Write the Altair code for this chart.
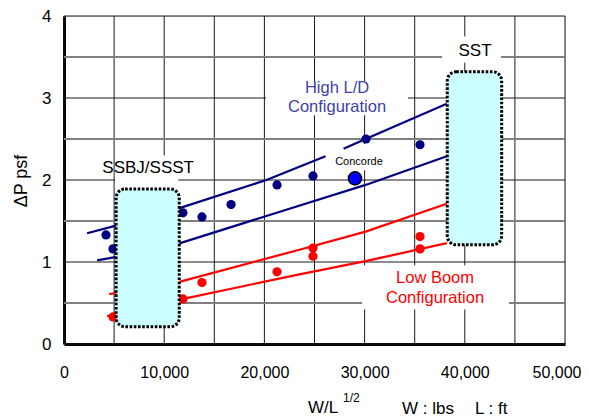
import altair as alt
import pandas as pd

FONT = "Liberation Sans"

# ---- data ----
blue_x = [4190, 4890, 11870, 13770, 16670, 21260, 24850, 30140, 35530]
blue_y = [1.33, 1.16, 1.60, 1.55, 1.70, 1.94, 2.05, 2.50, 2.43]

red_x = [4890, 11870, 13770, 21260, 24850, 24850, 35530, 35530]
red_y = [0.33, 0.55, 0.75, 0.88, 1.17, 1.07, 1.31, 1.16]

concorde_x = [29040]
concorde_y = [2.02]

# fitted bands (line segments as drawn)
hi_up_a_x = [2300, 5100, 11600, 20200, 26100]
hi_up_a_y = [1.35, 1.44, 1.66, 2.00, 2.29]
hi_up_b_x = [27900, 30100, 38200]
hi_up_b_y = [2.38, 2.50, 2.93]
hi_lo_x = [3300, 5100, 11600, 22500, 30100, 38200]
hi_lo_y = [1.02, 1.06, 1.23, 1.65, 1.94, 2.29]
lb_up_x = [4500, 5200, 11600, 23500, 30100, 38200]
lb_up_y = [0.61, 0.62, 0.76, 1.15, 1.37, 1.71]
lb_lo_x = [4300, 5200, 11900, 23500, 30100, 38200]
lb_lo_y = [0.34, 0.36, 0.55, 0.85, 1.01, 1.23]

# target regions (rounded dotted boxes)
box_names = ["SSBJ/SSST", "SST"]
box_x1 = [5200, 38250]
box_x2 = [11500, 43680]
box_y1 = [0.21, 1.21]
box_y2 = [1.89, 3.32]

# white label backgrounds
lab_bg_x1 = [5100, 37730, 20160, 29740, 26150]
lab_bg_x2 = [11400, 43620, 34330, 44410, 32530]
lab_bg_y1 = [1.89, 3.43, 2.79, 0.42, 2.12]
lab_bg_y2 = [2.30, 3.75, 3.20, 0.96, 2.44]

# annotation texts
ann_text = ["SSBJ/SSST", "SST", "High L/D", "Configuration", "Low Boom", "Configuration"]
ann_x = [8400, 41020, 27250, 27250, 37030, 37030]
ann_y = [2.15, 3.57, 3.125, 2.89, 0.80, 0.555]
ann_color = ["#000000", "#000000", "#3F3FAA", "#3F3FAA", "#FF0000", "#FF0000"]
ann_size = [17, 17, 16.5, 16.5, 16.5, 16.5]

conc_label = ["Concorde"]
conc_label_x = [29440]
conc_label_y = [2.22]

x_ticks = list(range(0, 50001, 5000))
y_ticks = [i * 0.5 for i in range(9)]

# ---- tables ----
pts_blue = pd.DataFrame({"x": blue_x, "y": blue_y})
pts_red = pd.DataFrame({"x": red_x, "y": red_y})
pts_conc = pd.DataFrame({"x": concorde_x, "y": concorde_y})

rows = []
for name, lx, ly, col in [
    ("hu_a", hi_up_a_x, hi_up_a_y, "#000080"),
    ("hu_b", hi_up_b_x, hi_up_b_y, "#000080"),
    ("hl", hi_lo_x, hi_lo_y, "#000080"),
    ("lu", lb_up_x, lb_up_y, "#FF0000"),
    ("ll", lb_lo_x, lb_lo_y, "#FF0000"),
]:
    for i, (a, b) in enumerate(zip(lx, ly)):
        rows.append({"s": name, "x": a, "y": b, "o": i, "c": col})
lines = pd.DataFrame(rows)

boxes = pd.DataFrame({"n": box_names, "x1": box_x1, "x2": box_x2, "y1": box_y1, "y2": box_y2})
bgs = pd.DataFrame({"x1": lab_bg_x1, "x2": lab_bg_x2, "y1": lab_bg_y1, "y2": lab_bg_y2})
ann = pd.DataFrame({"t": ann_text, "x": ann_x, "y": ann_y, "c": ann_color, "fs": ann_size})
conc_lab = pd.DataFrame({"t": conc_label, "x": conc_label_x, "y": conc_label_y})
vgrid = pd.DataFrame({"x": x_ticks})
hgrid = pd.DataFrame({
    "y": y_ticks,
    "c": ["#1a1a1a" if v % 1 == 0 else "#808080" for v in y_ticks],
    "w": [1.0 if v % 1 == 0 else 2.0 for v in y_ticks],
})

xs = alt.Scale(domain=[0, 50000], nice=False, zero=False)
ys = alt.Scale(domain=[0, 4], nice=False, zero=False)

x_axis = alt.Axis(
    values=x_ticks,
    labelExpr="datum.value % 10000 === 0 ? format(datum.value, ',d') : ''",
    labelAlign={"condition": {"test": "datum.value === 50000", "value": "right"}, "value": "center"},
    labelOffset={"condition": {"test": "datum.value === 50000", "value": 16}, "value": 0},
    grid=False, ticks=False, domain=True, domainColor="#000000", domainWidth=3,
    labelFont=FONT, labelFontSize=16, labelColor="#000000", labelPadding=20,
    labelFlush=False, labelOverlap=False, title=None,
)
y_axis = alt.Axis(
    values=y_ticks,
    labelExpr="datum.value % 1 === 0 ? format(datum.value, 'd') : ''",
    grid=False, ticks=False, domain=True, domainColor="#000000", domainWidth=3,
    labelFont=FONT, labelFontSize=17, labelColor="#000000", labelPadding=13,
    labelFlush=False, labelOverlap=False, title=None,
)


def X(f):
    return alt.X(f, scale=xs, axis=x_axis)


def Y(f):
    return alt.Y(f, scale=ys, axis=y_axis)


vgrid_layer = alt.Chart(vgrid).mark_rule(color="#1a1a1a", strokeWidth=1).encode(
    x=X("x:Q"), y=alt.datum(0, scale=ys), y2=alt.datum(4)
)
hgrid_layer = alt.Chart(hgrid).mark_rule().encode(
    y=Y("y:Q"), x=alt.datum(0, scale=xs), x2=alt.datum(50000),
    color=alt.Color("c:N", scale=None), strokeWidth=alt.StrokeWidth("w:Q", scale=None),
)

bg_layer = alt.Chart(bgs).mark_rect(fill="white").encode(
    x=X("x1:Q"), x2="x2", y=Y("y1:Q"), y2="y2"
)

line_layer = alt.Chart(lines).mark_line(strokeWidth=2.2, strokeCap="butt").encode(
    x=X("x:Q"), y=Y("y:Q"), detail="s:N", order="o:Q",
    color=alt.Color("c:N", scale=None),
)

blue_layer = alt.Chart(pts_blue).mark_circle(size=85, opacity=1, color="#000080").encode(
    x=X("x:Q"), y=Y("y:Q")
)
red_layer = alt.Chart(pts_red).mark_circle(size=85, opacity=1, color="#FF0000").encode(
    x=X("x:Q"), y=Y("y:Q")
)

box_layer = alt.Chart(boxes).mark_rect(
    fill="#CCFFFF", stroke="#000000", strokeWidth=3, strokeDash=[2.6, 1.6], cornerRadius=9
).encode(x=X("x1:Q"), x2="x2", y=Y("y1:Q"), y2="y2")

conc_layer = alt.Chart(pts_conc).mark_point(
    filled=True, size=175, shape="circle", fill="#0000FF", stroke="#000000", strokeWidth=1.5, opacity=1
).encode(x=X("x:Q"), y=Y("y:Q"))

ann_layer = alt.Chart(ann).mark_text(font=FONT, baseline="middle", align="center").encode(
    x=X("x:Q"), y=Y("y:Q"), text="t:N", color=alt.Color("c:N", scale=None),
    size=alt.Size("fs:Q", scale=None),
)
conc_text = alt.Chart(conc_lab).mark_text(font=FONT, fontSize=11, baseline="middle", align="center", color="#000000").encode(
    x=X("x:Q"), y=Y("y:Q"), text="t:N"
)

# axis titles as text
ytitle = alt.Chart(pd.DataFrame({"t": ["ΔP psf"]})).mark_text(
    font=FONT, fontSize=18, angle=270, align="center", baseline="alphabetic", color="#000000"
).encode(x=alt.value(-37), y=alt.value(165), text="t:N")

xt_main = alt.Chart(pd.DataFrame({"t": ["W/L"]})).mark_text(
    font=FONT, fontSize=17, align="left", baseline="alphabetic", color="#000000"
).encode(x=alt.value(244), y=alt.value(397), text="t:N")
xt_sup = alt.Chart(pd.DataFrame({"t": ["1/2"]})).mark_text(
    font=FONT, fontSize=12, align="left", baseline="alphabetic", color="#000000"
).encode(x=alt.value(279), y=alt.value(386), text="t:N")
xt_w = alt.Chart(pd.DataFrame({"t": ["W : lbs"]})).mark_text(
    font=FONT, fontSize=17, align="left", baseline="alphabetic", color="#000000"
).encode(x=alt.value(338), y=alt.value(398), text="t:N")
xt_l = alt.Chart(pd.DataFrame({"t": ["L : ft"]})).mark_text(
    font=FONT, fontSize=17, align="left", baseline="alphabetic", color="#000000"
).encode(x=alt.value(411), y=alt.value(398), text="t:N")

chart = alt.layer(
    vgrid_layer, hgrid_layer, bg_layer, line_layer, blue_layer, red_layer, box_layer, conc_layer,
    ann_layer, conc_text, ytitle, xt_main, xt_sup, xt_w, xt_l,
).properties(
    width=501, height=328,
    autosize=alt.AutoSizeParams(type="none"),
    padding={"left": 56, "top": 8, "right": 16, "bottom": 74},
).configure_view(
    stroke="#000000", strokeWidth=2
).configure(background="white")

chart.save("out.html", embed_options={"renderer": "svg", "actions": False})
